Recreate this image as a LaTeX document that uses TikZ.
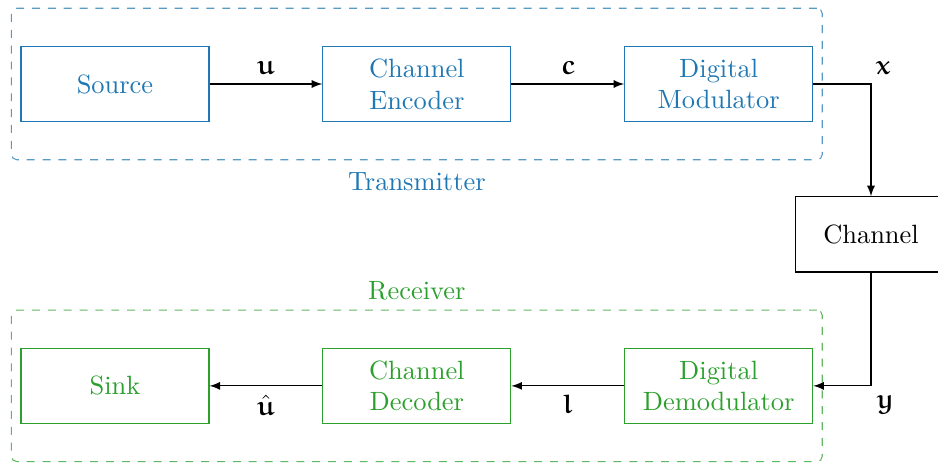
\documentclass[tikz,border=0pt]{standalone}
\usepackage{amsmath}
\usepackage{amssymb}
\usepackage{tikz}
\usepackage{xcolor}
\usetikzlibrary{positioning,fit}

\definecolor{txblue}{RGB}{31,119,180}
\definecolor{rxgreen}{RGB}{44,160,44}

\DeclareMathAlphabet{\mathbeur}{U}{eur}{b}{n}
\newcommand{\sym}[1]{\mathbeur{#1}}

\begin{document}
\begin{tikzpicture}[
                >=latex,
                blk/.style={rectangle, draw, thin, minimum width=2.5cm, minimum height=1cm, align=center},
                txblk/.style={blk, draw=txblue, text=txblue},
                rxblk/.style={blk, draw=rxgreen, text=rxgreen},
                group/.style={draw, dashed, rounded corners=2pt, inner xsep=0.12cm, inner ysep=0.5cm},
              ]
              \useasboundingbox (-1.529,1.117) rectangle (10.944,-5.027);
              % transmitter
              \node[txblk] (src) at (0,0) {Source};
              \node[txblk, right=1.5cm of src] (enc) {Channel\\Encoder};
              \node[txblk, right=1.5cm of enc] (mod) {Digital\\Modulator};
              % channel
              \node[blk, minimum width=2cm] (chan) at (10.053,-2.0) {Channel};
              % receiver
              \node[rxblk, below=3cm of mod] (dem) {Digital\\Demodulator};
              \node[rxblk, left=1.5cm of dem] (dec) {Channel\\Decoder};
              \node[rxblk, left=1.5cm of dec] (snk) {Sink};
              \node[group, draw=txblue!75, fit=(src)(mod),
                label={[text=txblue, yshift=-1pt]below:Transmitter}] (tx) {};
              \node[group, draw=rxgreen!75, fit=(snk)(dem),
                label={[text=rxgreen]above:Receiver}] (rx) {};
              \draw[->] (src) -- node[above] {$\sym{u}$} (enc);
              \draw[->] (enc) -- node[above] {$\sym{c}$} (mod);
              \draw[->] (mod.east) -| node[pos=0.5, above right, xshift=-1.5pt] {$\sym{x}$} (chan.north);
              \draw[->] (chan.south) |- node[pos=0.5, below right, xshift=-1.5pt] {$\sym{y}$} (dem.east);
              \draw[->] (dem) -- node[below] {$\sym{l}$} (dec);
              \draw[->] (dec) -- node[below] {$\hat{\sym{u}}$} (snk);
              \end{tikzpicture}
\end{document}
